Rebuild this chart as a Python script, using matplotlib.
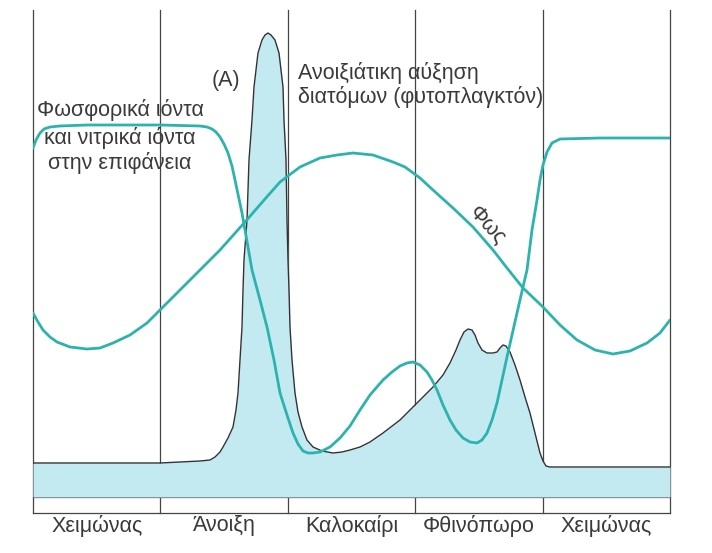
import matplotlib
matplotlib.use("Agg")
import matplotlib.pyplot as plt

# ---- data (relative units: x = time across the year, y = relative level) ----
season_labels = ["Χειμώνας", "Άνοιξη", "Καλοκαίρι", "Φθινόπωρο", "Χειμώνας"]
season_edges = [0, 127.4, 254.8, 382.2, 509.6, 637]

phyto_x = [0, 67, 127, 167, 177, 182, 187, 190, 195, 200, 203, 205, 207, 209, 210, 211,
           214, 216, 219, 221, 225, 229, 232, 235, 238, 242, 246, 250, 251, 253, 254,
           255, 256, 257, 259, 262, 265, 269, 274, 280, 289, 300, 309, 317, 327, 337,
           350, 367, 384, 400, 410, 417, 423, 427, 431, 435, 439, 442, 445, 449, 454,
           460, 464, 467, 470, 473, 477, 482, 487, 492, 497, 502, 507, 510, 513, 517,
           567, 637]
phyto_y = [34, 34, 34, 36, 37, 40, 45, 50, 59, 70, 87, 104, 137, 170, 207, 237,
           277, 337, 377, 410, 444, 457, 462, 464, 462, 457, 444, 410, 377, 337, 277,
           237, 207, 170, 137, 104, 85, 70, 57, 50, 46, 44, 45, 47, 50, 55,
           64, 77, 94, 110, 122, 134, 147, 157, 165, 168, 167, 162, 154, 147, 144,
           144, 145, 149, 152, 151, 145, 132, 117, 100, 84, 64, 44, 36, 31, 30,
           30, 30]

nutr_x = [0, 3, 7, 11, 17, 27, 54, 127, 167, 174, 179, 183, 187, 191, 195, 199,
          202, 209, 215, 219, 227, 234, 241, 247, 254, 260, 265, 270, 275, 280, 287,
          297, 307, 317, 327, 337, 350, 359, 367, 374, 380, 387, 394, 399, 404, 410,
          417, 423, 430, 437, 444, 449, 454, 459, 464, 469, 474, 479, 484, 490, 494,
          499, 504, 507, 510, 514, 519, 527, 567, 637]
nutr_y = [349, 357, 364, 368, 370, 371, 372, 372, 371, 370, 368, 365, 360, 353, 344, 331,
          317, 284, 250, 227, 197, 170, 137, 104, 82, 64, 53, 46, 44, 44, 45,
          50, 59, 71, 87, 102, 117, 125, 131, 134, 135, 132, 125, 117, 107, 92,
          77, 67, 59, 55, 54, 57, 64, 77, 94, 117, 140, 162, 184, 210, 227,
          267, 297, 317, 332, 345, 354, 358, 359, 359]

light_x = [0, 5, 10, 17, 24, 37, 54, 67, 80, 97, 114, 127, 144, 154, 167, 187,
           212, 232, 247, 267, 287, 304, 320, 340, 360, 372, 387, 400, 420, 440, 460,
           474, 490, 510, 527, 544, 562, 580, 597, 614, 627, 637]
light_y = [184, 175, 167, 160, 155, 150, 148, 149, 154, 162, 174, 187, 204, 214, 227, 247,
           275, 298, 315, 330, 339, 342, 344, 342, 335, 330, 319, 307, 289, 270, 247,
           229, 209, 190, 172, 157, 147, 143, 146, 154, 164, 177]

TEAL = "#2db3ae"
FILL = "#c3e9f1"
INK = "#3a3a3a"

fig = plt.figure(figsize=(7.12, 5.53), dpi=100)
fig.patch.set_facecolor("white")
ax = fig.add_axes([33 / 712, 40 / 553, 637 / 712, 503 / 553])
ax.set_xlim(0, 637)
ax.set_ylim(-16, 487)
ax.axis("off")

# season dividers and bottom strip
for e in season_edges:
    ax.plot([e, e], [-16, 487], color="#444444", lw=0.9, zorder=1, clip_on=False)
ax.plot([0, 637], [0, 0], color="#444444", lw=0.9, zorder=1, clip_on=False)
ax.plot([0, 637], [-16, -16], color="#444444", lw=0.9, zorder=1, clip_on=False)

# phytoplankton
ax.fill_between(phyto_x, 0, phyto_y, color=FILL, lw=0, zorder=2)
ax.plot(phyto_x, phyto_y, color="#333333", lw=1.0, zorder=3, solid_joinstyle="round")

# nutrients and light
ax.plot(nutr_x, nutr_y, color=TEAL, lw=2.0, zorder=4, solid_capstyle="round",
        solid_joinstyle="round")
ax.plot(light_x, light_y, color=TEAL, lw=2.0, zorder=4, solid_capstyle="round",
        solid_joinstyle="round")

font = ["Liberation Sans", "DejaVu Sans"]
fs = 15.5
for i, lab in enumerate(season_labels):
    cx = (season_edges[i] + season_edges[i + 1]) / 2
    ax.text(cx, -29, lab, ha="center", va="center", fontsize=fs, color=INK,
            family=font, clip_on=False)

ax.text(87, 387, "Φωσφορικά ιόντα", ha="center", va="center", fontsize=fs, color=INK, family=font)
ax.text(87, 359, "και νιτρικά ιόντα", ha="center", va="center", fontsize=fs, color=INK, family=font)
ax.text(87, 334, "στην επιφάνεια", ha="center", va="center", fontsize=fs, color=INK, family=font)
ax.text(193, 417, "(A)", ha="center", va="center", fontsize=fs, color=INK, family=font)
ax.text(265, 424, "Ανοιξιάτικη αύξηση", ha="left", va="center", fontsize=fs, color=INK, family=font)
ax.text(265, 400, "διατόμων (φυτοπλαγκτόν)", ha="left", va="center", fontsize=fs, color=INK, family=font)
ax.text(454, 272, "Φως", ha="center", va="center", fontsize=fs, color=INK, family=font,
        rotation=-48, rotation_mode="anchor")

fig.savefig("out.png", dpi=100, facecolor="white")
